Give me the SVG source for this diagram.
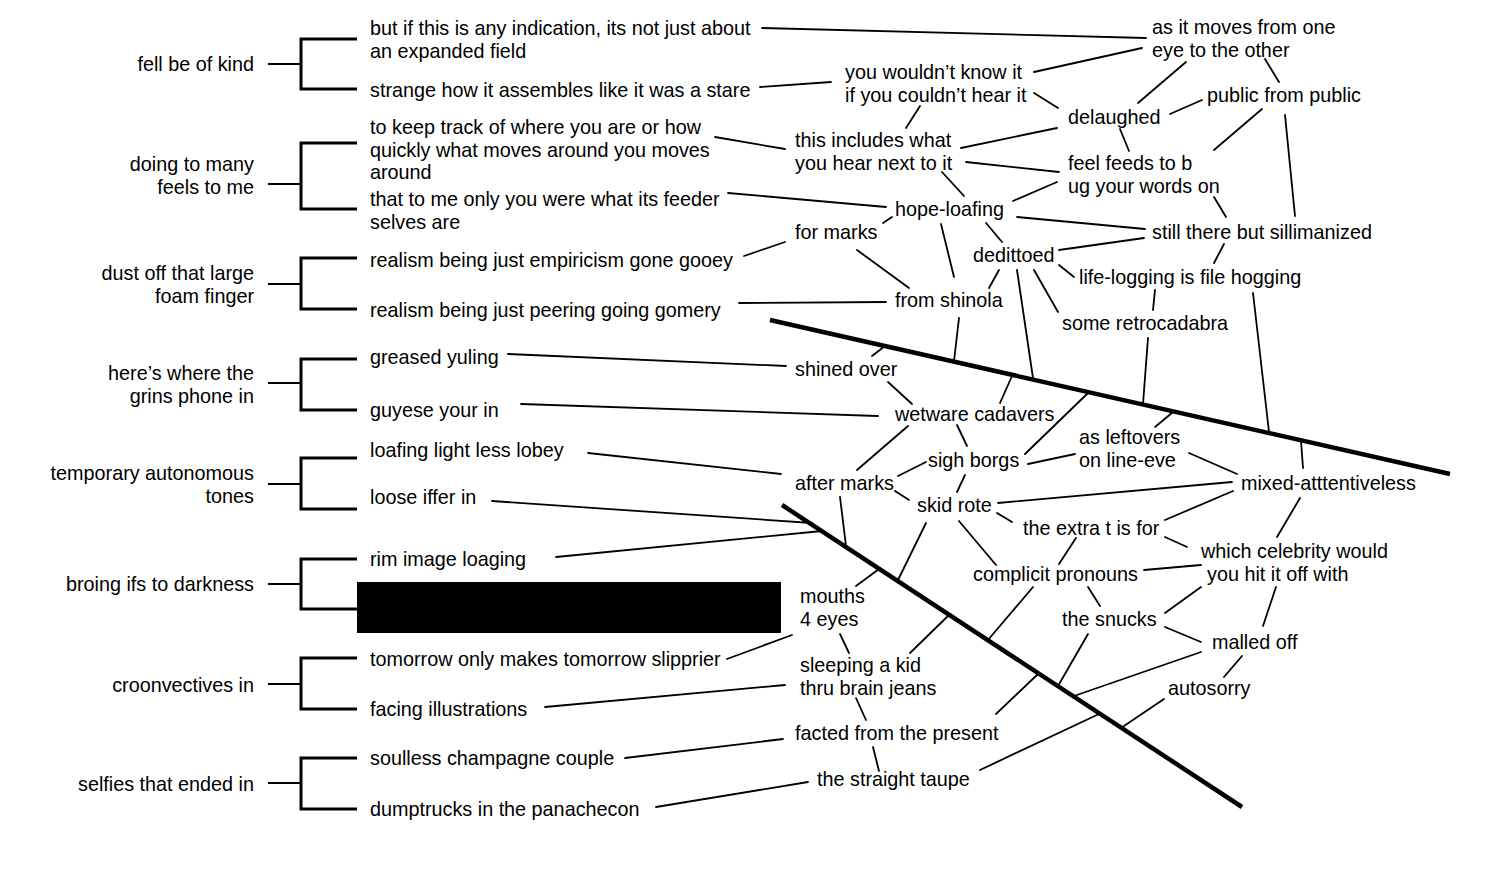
<svg xmlns="http://www.w3.org/2000/svg" width="1500" height="888" viewBox="0 0 1500 888">
<style>
text{font-family:"Liberation Sans",Arial,sans-serif;font-size:19.8px;fill:#000}
.r{text-anchor:end}
.c line{stroke:#000;stroke-width:1.8;stroke-linecap:round}
.b path{fill:none;stroke:#000;stroke-width:3}
.b line{stroke:#000;stroke-width:2.2}
.big line{stroke:#000;stroke-width:4.5}
</style>
<rect width="1500" height="888" fill="#fff"/>
<g id="brackets" class="b">
<line x1="268" y1="64" x2="301" y2="64"/><path d="M357 39H301V89H357"/>
<line x1="268" y1="184" x2="301" y2="184"/><path d="M357 143H301V209H357"/>
<line x1="268" y1="284" x2="301" y2="284"/><path d="M357 258H301V309H357"/>
<line x1="268" y1="383" x2="301" y2="383"/><path d="M357 359H301V410H357"/>
<line x1="268" y1="484" x2="301" y2="484"/><path d="M357 458H301V509H357"/>
<line x1="268" y1="584" x2="301" y2="584"/><path d="M357 559H301V609H357"/>
<line x1="268" y1="684" x2="301" y2="684"/><path d="M357 658H301V709H357"/>
<line x1="268" y1="783" x2="301" y2="783"/><path d="M357 758H301V809H357"/>
</g>
<g id="axes" class="big">
<line x1="770" y1="320" x2="1450" y2="474"/>
<line x1="782" y1="505" x2="1242" y2="807"/>
</g>
<g id="connectors" class="c">
<line x1="762" y1="28" x2="1146" y2="38"/>
<line x1="760" y1="87" x2="831" y2="82"/>
<line x1="1034" y1="72" x2="1142" y2="48"/>
<line x1="1034" y1="93" x2="1058" y2="108"/>
<line x1="920" y1="106" x2="906" y2="128"/>
<line x1="1186" y1="62" x2="1138" y2="103"/>
<line x1="1265" y1="59" x2="1279" y2="82"/>
<line x1="1170" y1="114" x2="1202" y2="100"/>
<line x1="1057" y1="128" x2="961" y2="148"/>
<line x1="1120" y1="129" x2="1129" y2="151"/>
<line x1="1262" y1="109" x2="1214" y2="150"/>
<line x1="1285" y1="115" x2="1295" y2="216"/>
<line x1="715" y1="137" x2="785" y2="149"/>
<line x1="966" y1="162" x2="1059" y2="172"/>
<line x1="942" y1="172" x2="964" y2="196"/>
<line x1="728" y1="193" x2="886" y2="207"/>
<line x1="1057" y1="182" x2="1013" y2="201"/>
<line x1="1214" y1="197" x2="1226" y2="217"/>
<line x1="1017" y1="217" x2="1145" y2="229"/>
<line x1="892" y1="217" x2="883" y2="223"/>
<line x1="941" y1="224" x2="954" y2="277"/>
<line x1="986" y1="223" x2="1002" y2="242"/>
<line x1="1059" y1="250" x2="1144" y2="238"/>
<line x1="1224" y1="244" x2="1214" y2="263"/>
<line x1="1059" y1="265" x2="1074" y2="277"/>
<line x1="744" y1="256" x2="785" y2="242"/>
<line x1="857" y1="250" x2="909" y2="288"/>
<line x1="999" y1="270" x2="989" y2="288"/>
<line x1="1017" y1="270" x2="1033" y2="378"/>
<line x1="1034" y1="270" x2="1058" y2="312"/>
<line x1="739" y1="303" x2="886" y2="302"/>
<line x1="1155" y1="290" x2="1153" y2="310"/>
<line x1="1253" y1="293" x2="1269" y2="432"/>
<line x1="959" y1="318" x2="954" y2="361"/>
<line x1="1148" y1="338" x2="1143" y2="404"/>
<line x1="872" y1="356" x2="885" y2="346"/>
<line x1="508" y1="354" x2="786" y2="366"/>
<line x1="521" y1="404" x2="878" y2="416"/>
<line x1="888" y1="382" x2="912" y2="404"/>
<line x1="1000" y1="403" x2="1012" y2="376"/>
<line x1="908" y1="426" x2="857" y2="470"/>
<line x1="957" y1="425" x2="967" y2="446"/>
<line x1="1025" y1="454" x2="1088" y2="393"/>
<line x1="1028" y1="464" x2="1075" y2="454"/>
<line x1="1155" y1="427" x2="1173" y2="412"/>
<line x1="1303" y1="468" x2="1301" y2="441"/>
<line x1="1189" y1="453" x2="1237" y2="474"/>
<line x1="898" y1="476" x2="926" y2="462"/>
<line x1="895" y1="491" x2="909" y2="500"/>
<line x1="965" y1="475" x2="957" y2="492"/>
<line x1="998" y1="503" x2="1232" y2="482"/>
<line x1="997" y1="513" x2="1012" y2="522"/>
<line x1="926" y1="523" x2="898" y2="580"/>
<line x1="959" y1="521" x2="996" y2="565"/>
<line x1="840" y1="497" x2="846" y2="546"/>
<line x1="588" y1="453" x2="781" y2="474"/>
<line x1="492" y1="501" x2="812" y2="523"/>
<line x1="556" y1="557" x2="822" y2="531"/>
<line x1="856" y1="586" x2="879" y2="569"/>
<line x1="727" y1="659" x2="792" y2="635"/>
<line x1="840" y1="634" x2="849" y2="653"/>
<line x1="910" y1="653" x2="949" y2="615"/>
<line x1="1033" y1="587" x2="988" y2="640"/>
<line x1="1076" y1="538" x2="1059" y2="564"/>
<line x1="1165" y1="537" x2="1187" y2="547"/>
<line x1="1233" y1="491" x2="1165" y2="520"/>
<line x1="1300" y1="498" x2="1277" y2="537"/>
<line x1="1144" y1="570" x2="1201" y2="565"/>
<line x1="1088" y1="587" x2="1100" y2="606"/>
<line x1="1201" y1="587" x2="1165" y2="613"/>
<line x1="1276" y1="587" x2="1263" y2="626"/>
<line x1="1165" y1="627" x2="1201" y2="642"/>
<line x1="1088" y1="634" x2="1058" y2="686"/>
<line x1="1201" y1="652" x2="1074" y2="696"/>
<line x1="1242" y1="656" x2="1224" y2="677"/>
<line x1="1164" y1="699" x2="1121" y2="728"/>
<line x1="996" y1="714" x2="1038" y2="674"/>
<line x1="980" y1="770" x2="1099" y2="714"/>
<line x1="625" y1="758" x2="783" y2="739"/>
<line x1="656" y1="807" x2="808" y2="782"/>
<line x1="545" y1="707" x2="785" y2="685"/>
<line x1="856" y1="698" x2="866" y2="720"/>
<line x1="873" y1="747" x2="879" y2="771"/>
</g>
<g id="g-fell"><text class="r" x="254" y="71">fell be of kind</text></g>
<g id="g-doing"><text class="r" x="254" y="171">doing to many</text><text class="r" x="254" y="194">feels to me</text></g>
<g id="g-dust"><text class="r" x="254" y="280">dust off that large</text><text class="r" x="254" y="303">foam finger</text></g>
<g id="g-here"><text class="r" x="254" y="380">here’s where the</text><text class="r" x="254" y="403">grins phone in</text></g>
<g id="g-temp"><text class="r" x="254" y="480">temporary autonomous</text><text class="r" x="254" y="503">tones</text></g>
<g id="g-broing"><text class="r" x="254" y="591">broing ifs to darkness</text></g>
<g id="g-croon"><text class="r" x="254" y="692">croonvectives in</text></g>
<g id="g-selfies"><text class="r" x="254" y="791">selfies that ended in</text></g>
<g id="m-butif"><text x="370" y="35">but if this is any indication, its not just about</text><text x="370" y="58">an expanded field</text></g>
<g id="m-strange"><text x="370" y="97">strange how it assembles like it was a stare</text></g>
<g id="m-keep"><text x="370" y="134">to keep track of where you are or how</text><text x="370" y="157">quickly what moves around you moves</text><text x="370" y="179">around</text></g>
<g id="m-that"><text x="370" y="206">that to me only you were what its feeder</text><text x="370" y="229">selves are</text></g>
<g id="m-gooey"><text x="370" y="267">realism being just empiricism gone gooey</text></g>
<g id="m-gomery"><text x="370" y="317">realism being just peering going gomery</text></g>
<g id="m-greased"><text x="370" y="364">greased yuling</text></g>
<g id="m-guyese"><text x="370" y="417">guyese your in</text></g>
<g id="m-loafing"><text x="370" y="457">loafing light less lobey</text></g>
<g id="m-loose"><text x="370" y="504">loose iffer in</text></g>
<g id="m-rim"><text x="370" y="566">rim image loaging</text></g>
<g id="m-redacted"><rect x="357" y="582" width="424" height="51" fill="#000"/></g>
<g id="m-tomorrow"><text x="370" y="666">tomorrow only makes tomorrow slipprier</text></g>
<g id="m-facing"><text x="370" y="716">facing illustrations</text></g>
<g id="m-soulless"><text x="370" y="765">soulless champagne couple</text></g>
<g id="m-dump"><text x="370" y="816">dumptrucks in the panachecon</text></g>
<g id="n-asit"><text x="1152" y="34">as it moves from one</text><text x="1152" y="57">eye to the other</text></g>
<g id="n-wouldnt"><text x="845" y="79">you wouldn’t know it</text><text x="845" y="102">if you couldn’t hear it</text></g>
<g id="n-public"><text x="1207" y="102">public from public</text></g>
<g id="n-delaughed"><text x="1068" y="124">delaughed</text></g>
<g id="n-includes"><text x="795" y="147">this includes what</text><text x="795" y="170">you hear next to it</text></g>
<g id="n-feel"><text x="1068" y="170">feel feeds to b</text><text x="1068" y="193">ug your words on</text></g>
<g id="n-hope"><text x="895" y="216">hope-loafing</text></g>
<g id="n-formarks"><text x="795" y="239">for marks</text></g>
<g id="n-still"><text x="1152" y="239">still there but sillimanized</text></g>
<g id="n-dedittoed"><text x="973" y="262">dedittoed</text></g>
<g id="n-lifelog"><text x="1079" y="284">life-logging is file hogging</text></g>
<g id="n-shinola"><text x="895" y="307">from shinola</text></g>
<g id="n-retro"><text x="1062" y="330">some retrocadabra</text></g>
<g id="n-shined"><text x="795" y="376">shined over</text></g>
<g id="n-wetware"><text x="895" y="421">wetware cadavers</text></g>
<g id="n-leftovers"><text x="1079" y="444">as leftovers</text><text x="1079" y="467">on line-eve</text></g>
<g id="n-sigh"><text x="928" y="467">sigh borgs</text></g>
<g id="n-after"><text x="795" y="490">after marks</text></g>
<g id="n-mixed"><text x="1241" y="490">mixed-atttentiveless</text></g>
<g id="n-skid"><text x="917" y="512">skid rote</text></g>
<g id="n-extra"><text x="1023" y="535">the extra t is for</text></g>
<g id="n-celeb"><text x="1201" y="558">which celebrity would</text><text x="1207" y="581">you hit it off with</text></g>
<g id="n-complicit"><text x="973" y="581">complicit pronouns</text></g>
<g id="n-mouths"><text x="800" y="603">mouths</text><text x="800" y="626">4 eyes</text></g>
<g id="n-snucks"><text x="1062" y="626">the snucks</text></g>
<g id="n-malled"><text x="1212" y="649">malled off</text></g>
<g id="n-sleeping"><text x="800" y="672">sleeping a kid</text><text x="800" y="695">thru brain jeans</text></g>
<g id="n-autosorry"><text x="1168" y="695">autosorry</text></g>
<g id="n-facted"><text x="795" y="740">facted from the present</text></g>
<g id="n-taupe"><text x="817" y="786">the straight taupe</text></g>
</svg>
